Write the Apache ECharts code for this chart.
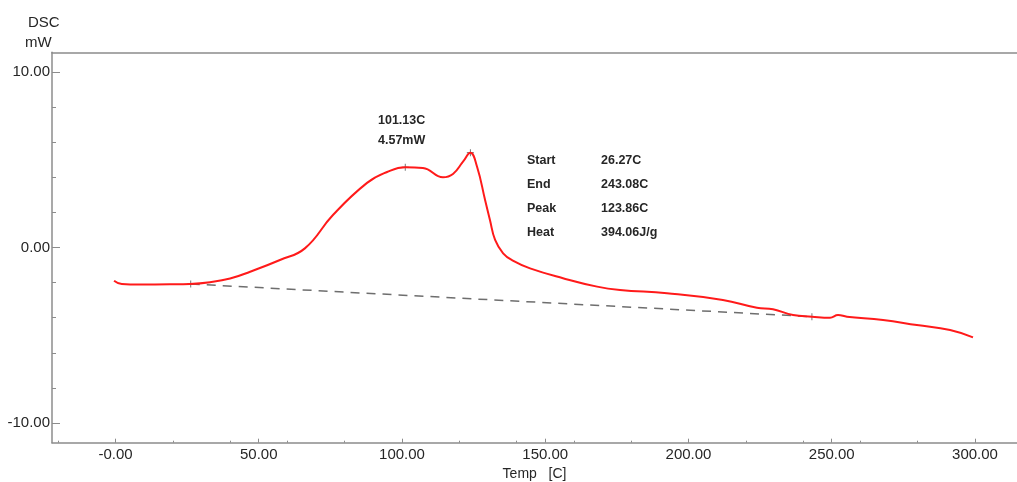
<!DOCTYPE html>
<html>
<head>
<meta charset="utf-8">
<script src="https://cdn.jsdelivr.net/npm/echarts@6/dist/echarts.min.js"></script>
<style>html,body{margin:0;padding:0;background:#fff}#c{width:1017px;height:482px}</style>
</head>
<body>
<div id="c"></div>
<script>
// DSC curve: [Temp C, mW]
var dscCurve = [
  [-0.5,-1.89],[2.2,-2.08],[8.5,-2.11],[19.0,-2.10],[26.0,-2.08],[33.0,-1.98],[40.0,-1.77],
  [47.0,-1.38],[57.4,-0.71],[66.1,-0.05],[75.9,1.85],[87.8,3.68],[94.8,4.30],[101.13,4.57],
  [107.3,4.53],[114.3,4.00],[117.8,4.19],[121.3,4.89],[123.86,5.40],[126.2,4.60],[129.0,2.71],
  [130.7,1.57],[132.5,0.43],[135.3,-0.33],[138.7,-0.75],[144.7,-1.19],[156.2,-1.75],[168.1,-2.23],
  [176.1,-2.42],[192.5,-2.61],[212.0,-2.99],[223.9,-3.43],[229.5,-3.52],[236.5,-3.85],[243.08,-3.94],
  [249.4,-4.00],[252.2,-3.85],[255.3,-3.94],[267.9,-4.13],[279.7,-4.42],[291.3,-4.70],[299.3,-5.12]
];
var baseline = [[26.27,-2.08],[243.08,-3.94]];
var markers = [[26.27,-2.08],[101.13,4.57],[123.86,5.40],[243.08,-3.94]];
var xMajor = [0,50,100,150,200,250,300];
var xMajorLabels = ['-0.00','50.00','100.00','150.00','200.00','250.00','300.00'];
var xMinor = [-20,0,20,40,60,80,100,120,140,160,180,200,220,240,260,280,300];
var yMajor = [-10,0,10];
var yMajorLabels = ['-10.00','0.00','10.00'];
var yMinor = [-10,-8,-6,-4,-2,0,2,4,6,8,10];
var peakLabel = ['101.13C','4.57mW'];
var infoNames = ['Start','End','Peak','Heat'];
var infoValues = ['26.27C','243.08C','123.86C','394.06J/g'];

var FONT = '"Liberation Sans", Arial, sans-serif';
var TXT = '#262626';
var AX = '#8c8c8c';
var XMIN = -22.16, XMAX = 314.66, YMIN = -11.12, YMAX = 11.12;

var chart = echarts.init(document.getElementById('c'), null, {renderer:'canvas'});
var graphics = [
  {type:'text', left:28, top:15, style:{text:'DSC', font:'15px '+FONT, fill:TXT}},
  {type:'text', left:25, top:35, style:{text:'mW', font:'15px '+FONT, fill:TXT}},
  {type:'text', left:378, top:114, style:{text:peakLabel[0], font:'bold 12.5px '+FONT, fill:TXT}},
  {type:'text', left:378, top:134, style:{text:peakLabel[1], font:'bold 12.5px '+FONT, fill:TXT}}
];
var infoY = [154, 178, 202, 226.5];
infoNames.forEach(function(n,i){
  graphics.push({type:'text', left:527, top:infoY[i], style:{text:n, font:'bold 12.5px '+FONT, fill:TXT}});
  graphics.push({type:'text', left:601, top:infoY[i], style:{text:infoValues[i], font:'bold 12.5px '+FONT, fill:TXT}});
});

chart.setOption({
  animation:false,
  backgroundColor:'#fff',
  grid:{left:52, right:0, top:52.3, bottom:39.3, show:false, containLabel:false, outerBoundsMode:'none'},
  xAxis:[{
    type:'value', min:XMIN, max:XMAX, position:'bottom',
    axisLine:{show:true, onZero:false, lineStyle:{color:AX, width:1.5}}, splitLine:{show:false},
    axisTick:{show:true, inside:true, length:4, customValues:xMajor, lineStyle:{color:AX, width:1}},
    axisLabel:{show:true, customValues:xMajor, margin:5, color:TXT, fontSize:15, fontFamily:FONT,
      formatter:function(v){ var i = xMajor.indexOf(v); return i>=0 ? xMajorLabels[i] : ''; }},
    name:'Temp   [C]', nameLocation:'middle', nameGap:31,
    nameTextStyle:{color:TXT, fontSize:14, fontFamily:FONT, verticalAlign:'middle'}
  },{
    type:'value', min:XMIN, max:XMAX, position:'bottom',
    axisLine:{show:false, onZero:false}, splitLine:{show:false}, axisLabel:{show:false},
    axisTick:{show:true, inside:true, length:2, customValues:xMinor, lineStyle:{color:AX, width:1}}
  },{
    type:'value', min:XMIN, max:XMAX, position:'top',
    axisLine:{show:true, onZero:false, lineStyle:{color:AX, width:1.5}}, splitLine:{show:false},
    axisLabel:{show:false}, axisTick:{show:false}
  }],
  yAxis:[{
    type:'value', min:YMIN, max:YMAX, position:'left',
    axisLine:{show:true, onZero:false, lineStyle:{color:AX, width:1.5}}, splitLine:{show:false},
    axisTick:{show:true, inside:true, length:8, customValues:yMajor, lineStyle:{color:AX, width:1}},
    axisLabel:{show:true, customValues:yMajor, margin:2, color:TXT, fontSize:15, fontFamily:FONT,
      formatter:function(v){ var i = yMajor.indexOf(v); return i>=0 ? yMajorLabels[i] : ''; }}
  },{
    type:'value', min:YMIN, max:YMAX, position:'left',
    axisLine:{show:false, onZero:false}, splitLine:{show:false}, axisLabel:{show:false},
    axisTick:{show:true, inside:true, length:4, customValues:yMinor, lineStyle:{color:AX, width:1}}
  }],
  series:[{
    type:'line', data:baseline, xAxisIndex:0, yAxisIndex:0, symbol:'none', silent:true,
    lineStyle:{color:'#6e6e6e', width:1.5, type:[9,7]}
  },{
    type:'line', data:dscCurve, xAxisIndex:0, yAxisIndex:0, symbol:'none', smooth:0.45, silent:true,
    lineStyle:{color:'#ff1a1a', width:2}
  },{
    type:'scatter', data:markers, xAxisIndex:0, yAxisIndex:0, silent:true,
    symbol:'path://M4.4,0h1.2v10h-1.2zM0,4.4h10v1.2h-10z', symbolSize:7,
    itemStyle:{color:'#333'}
  }],
  graphic:graphics
});
</script>
</body>
</html>
